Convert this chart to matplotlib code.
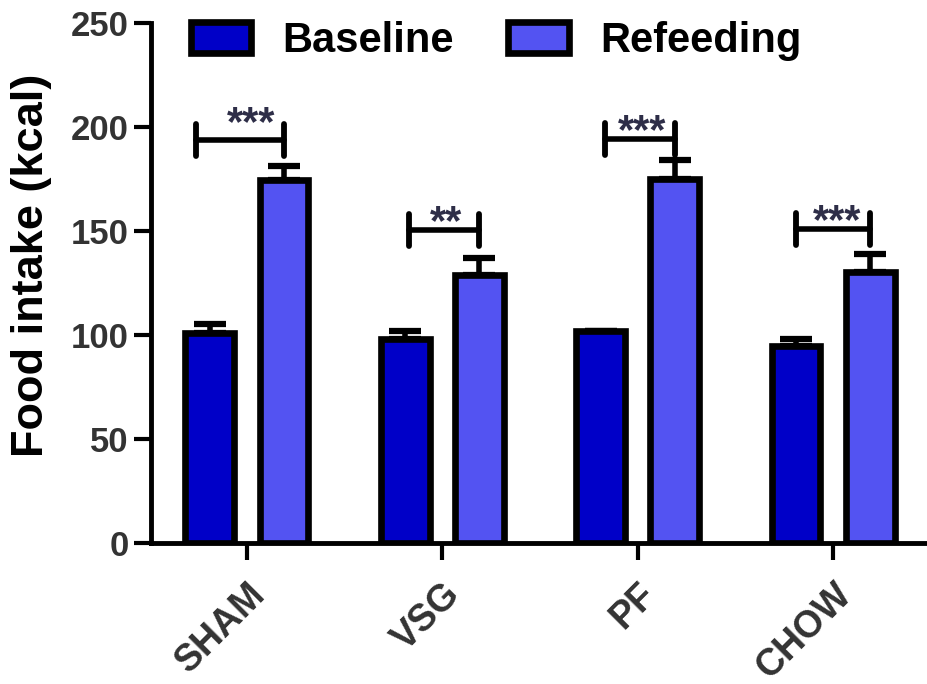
import numpy as np
import matplotlib.pyplot as plt
from matplotlib.patches import Patch

groups = ["SHAM", "VSG", "PF", "CHOW"]
baseline = [101, 98, 102, 95]
baseline_err = [4.5, 4, 0, 3]
refeeding = [174.5, 129, 175, 130.5]
refeeding_err = [7, 8, 9, 8.5]
sig_labels = ["***", "**", "***", "***"]
bracket_y = [194, 150.5, 194.5, 151]

plt.rcParams["font.family"] = ["Liberation Sans", "DejaVu Sans"]
plt.rcParams["font.weight"] = "bold"

C_BASE = "#0000c8"
C_REFEED = "#5353f2"
TXT = "#333333"
LW = 4.8

fig = plt.figure(figsize=(9.27, 6.84), dpi=100)
ax = fig.add_axes([0.163, 0.206, 0.837, 0.76])

x = np.arange(len(groups))
w = 0.25
off = 0.19

ax.bar(x - off, baseline, w, color=C_BASE, edgecolor="black", linewidth=LW, zorder=3)
ax.bar(x + off, refeeding, w, color=C_REFEED, edgecolor="black", linewidth=LW, zorder=3)

# upper-only error bars
ax.errorbar(x - off, baseline, yerr=[np.zeros(len(x)), baseline_err], fmt="none",
            ecolor="black", elinewidth=4, capsize=11.5, capthick=4.5, zorder=2)
ax.errorbar(x + off, refeeding, yerr=[np.zeros(len(x)), refeeding_err], fmt="none",
            ecolor="black", elinewidth=4, capsize=11.5, capthick=4.5, zorder=2)

# significance brackets with stars
left_off = [-0.26, -0.17, -0.17, -0.19]
star_lift = [2, -2, -2, -2]
for i, (lbl, by) in enumerate(zip(sig_labels, bracket_y)):
    x0 = x[i] + left_off[i]
    x1 = x[i] + off
    ax.plot([x0, x1], [by, by], color="black", lw=4, solid_capstyle="round", zorder=4)
    for xe in (x0, x1):
        ax.plot([xe, xe], [by - 7.7, by + 7.7], color="black", lw=4.2,
                solid_capstyle="round", zorder=4)
    ax.text(x[i] + 0.02, by + star_lift[i], lbl, ha="center", va="baseline",
            fontsize=30, color="#2e2e48", fontweight="bold", zorder=5)

ax.set_ylim(0, 250)
ax.set_xlim(-0.49, 3.48)
ax.set_yticks(range(0, 251, 50))
ax.set_xticks(x)
ax.set_xticklabels(groups, rotation=45, ha="right", va="top",
                   rotation_mode="anchor", fontsize=27, color=TXT)
for t in ax.get_yticklabels():
    t.set_fontsize(25)
    t.set_color(TXT)
ax.tick_params(axis="both", width=3, length=12, color="black")
ax.tick_params(axis="y", pad=4)
ax.tick_params(axis="x", pad=12)

for s in ("top", "right"):
    ax.spines[s].set_visible(False)
for s in ("left", "bottom"):
    ax.spines[s].set_linewidth(3.5)

ax.set_ylabel("Food intake (kcal)", fontsize=32.5, fontweight="bold", color="black")
ax.yaxis.set_label_coords(-0.128, 0.535)

handles = [Patch(facecolor=C_BASE, edgecolor="black", linewidth=LW, label="Baseline"),
           Patch(facecolor=C_REFEED, edgecolor="black", linewidth=LW, label="Refeeding")]
fig.legend(handles=handles, loc="center left", bbox_to_anchor=(0.206, 0.94), ncol=2,
           frameon=False, fontsize=30, handlelength=1.45, handleheight=0.8,
           handletextpad=0.75, columnspacing=1.3, borderpad=0, borderaxespad=0)

fig.savefig("out.png", dpi=100, facecolor="white")
